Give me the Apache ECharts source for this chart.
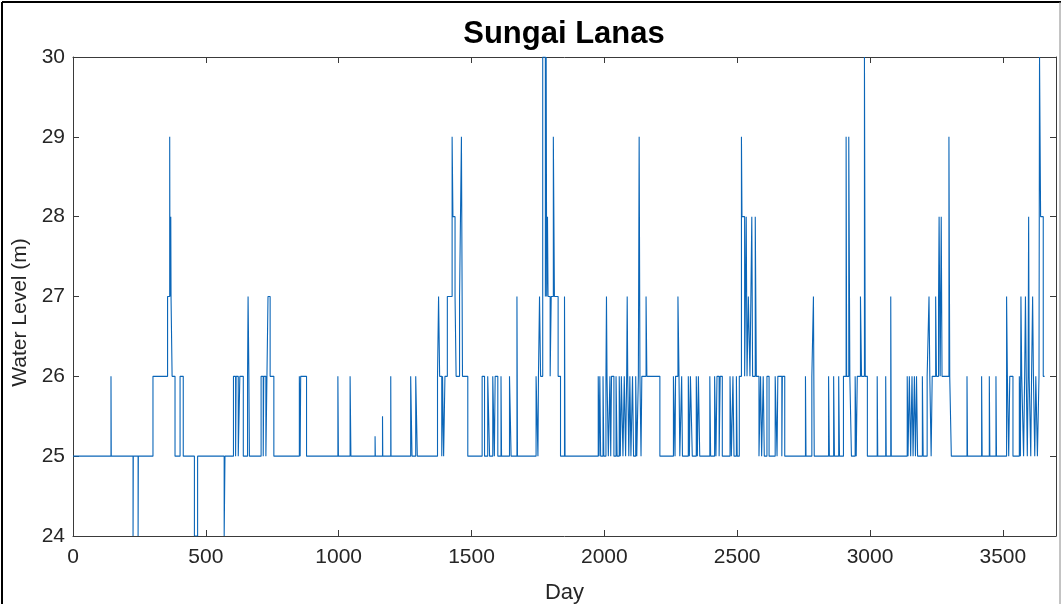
<!DOCTYPE html>
<html>
<head>
<meta charset="utf-8">
<script src="https://cdn.jsdelivr.net/npm/echarts@6/dist/echarts.min.js"></script>
<style>
html,body{margin:0;padding:0;background:#fff;}
#chart{width:1061px;height:604px;}
</style>
</head>
<body>
<div id="chart"></div>
<script>
// Day at which the water level changes, and the level held from that day on
const changeDays = [
  0, 143, 144, 226, 227, 245, 246, 301, 356, 364, 365, 368, 369, 373, 384, 403, 415,
  457, 469, 569, 572, 604, 612, 614, 622, 628, 641, 657, 659, 662, 664,
  708, 716, 718, 726, 730, 734, 742, 756, 852, 855, 857, 879, 997, 999, 1043, 1046,
  1137, 1138, 1165, 1166, 1196, 1197, 1271, 1276, 1290, 1296,
  1372, 1376, 1380, 1388, 1391, 1395, 1400, 1409, 1427, 1430, 1438, 1442, 1455, 1462, 1466, 1486,
  1540, 1549, 1561, 1568, 1580, 1586, 1589, 1599, 1611, 1613, 1643, 1649, 1671, 1673,
  1743, 1750, 1752, 1756, 1760, 1768, 1778, 1781, 1783, 1786, 1788, 1796, 1800, 1808, 1812, 1826, 1835, 1850, 1852,
  1977, 1980, 1983, 1986, 1995, 1998, 2006, 2008, 2010, 2015, 2021, 2024, 2027, 2036, 2044, 2048,
  2056, 2060, 2064, 2070, 2075, 2080, 2084, 2086, 2088, 2092, 2096, 2100, 2106, 2110, 2118, 2122,
  2128, 2131, 2134, 2138, 2141, 2157, 2160, 2209,
  2260, 2266, 2268, 2277, 2281, 2284, 2291, 2294, 2316, 2320, 2324, 2331, 2346, 2350, 2354, 2359,
  2397, 2400, 2415, 2420, 2424, 2432, 2436, 2444, 2473, 2478, 2484, 2488, 2497, 2500,
  2508, 2516, 2518, 2528, 2534, 2537, 2542, 2548, 2555, 2558, 2568, 2572, 2582,
  2588, 2592, 2598, 2602, 2612, 2620, 2643, 2650, 2653, 2668, 2670, 2679,
  2757, 2759, 2781, 2787, 2790, 2844, 2847, 2863, 2866, 2882, 2885,
  2900, 2910, 2912, 2920, 2924, 2930, 2944, 2948, 2952, 2964, 2968, 2979, 2982, 2990,
  3027, 3029, 3059, 3061, 3078, 3080,
  3140, 3143, 3148, 3153, 3158, 3162, 3167, 3171, 3175, 3179, 3197, 3200, 3215, 3222, 3225, 3230,
  3234, 3247, 3250, 3258, 3260, 3264, 3268, 3271, 3297, 3300, 3306,
  3365, 3367, 3420, 3422, 3449, 3451, 3474, 3476, 3514, 3517, 3522, 3526, 3538,
  3562, 3566, 3568, 3571, 3578, 3582, 3585, 3588, 3592, 3595, 3597, 3599, 3605, 3608, 3612, 3615,
  3620, 3624, 3630, 3636, 3638, 3640, 3642, 3652, 3657
];
const levels = [
  25, 26, 25, 24, 25, 24, 25, 26, 27, 29, 27, 28, 27, 26, 25, 26, 25,
  24, 25, 24, 25, 26, 25, 26, 25, 26, 25, 26, 27, 26, 25,
  26, 25, 26, 25, 26, 27, 26, 25, 26, 25, 26, 25, 26, 25, 26, 25,
  25.25, 25, 25.5, 25, 26, 25, 26, 25, 26, 25,
  26, 27, 26, 25, 26, 25, 26, 27, 29, 28, 27, 26, 27, 29, 26, 25,
  26, 25, 26, 25, 26, 25, 26, 25, 26, 25, 26, 25, 27, 25,
  26, 25, 26, 27, 26, 30, 27, 30, 27, 28, 27, 26, 27, 29, 27, 26, 25, 27, 25,
  26, 25, 26, 25, 26, 25, 26, 27, 26, 25, 26, 25, 26, 25, 26, 25,
  26, 25, 26, 25, 26, 25, 26, 27, 26, 25, 26, 25, 26, 25, 26, 25,
  26, 29, 26, 25, 26, 27, 26, 25,
  26, 25, 26, 27, 26, 25, 26, 25, 26, 25, 26, 25, 26, 25, 26, 25,
  26, 25, 26, 25, 26, 25, 26, 25, 26, 25, 26, 25, 26, 25,
  26, 29, 28, 26, 28, 26, 27, 26, 28, 26, 28, 26, 25,
  26, 25, 26, 25, 26, 25, 26, 25, 26, 25, 26, 25,
  26, 25, 26, 27, 25, 26, 25, 26, 25, 26, 25,
  26, 29, 26, 29, 26, 25, 26, 25, 26, 27, 26, 30, 26, 25,
  26, 25, 26, 25, 27, 25,
  26, 25, 26, 25, 26, 25, 26, 25, 26, 25, 26, 25, 26, 27, 26, 25,
  26, 27, 26, 27, 28, 26, 28, 26, 29, 26, 25,
  26, 25, 26, 25, 26, 25, 26, 25, 27, 26, 25, 26, 25,
  26, 25, 27, 26, 25, 26, 27, 26, 25, 26, 28, 26, 25, 26, 27, 26,
  25, 26, 25, 26, 30, 29, 28, 26, 26
];
const xTicks = [0, 500, 1000, 1500, 2000, 2500, 3000, 3500];
const yTicks = [24, 25, 26, 27, 28, 29, 30];
const chartTitle = 'Sungai Lanas';
const xName = 'Day';
const yName = 'Water Level (m)';

const seriesData = changeDays.map((d, i) => [d, levels[i]]);

const axisColor = '#3a3a3a';
const FONT = 'Liberation Sans, Arial, sans-serif';
const labelFont = {fontFamily: FONT, fontSize: 21, color: '#262626'};

const chart = echarts.init(document.getElementById('chart'), null, {renderer: 'canvas'});
const xBase = {
  type: 'value', min: 0, max: 3700, interval: 500,
  axisLine: {show: true, onZero: false, lineStyle: {color: axisColor, width: 1}},
  axisTick: {show: true, inside: true, length: 6, lineStyle: {color: axisColor}},
  splitLine: {show: false}
};
const yBase = {
  type: 'value', min: 24, max: 30, interval: 1,
  axisLine: {show: true, onZero: false, lineStyle: {color: axisColor, width: 1}},
  axisTick: {show: true, inside: true, length: 6, lineStyle: {color: axisColor}},
  splitLine: {show: false}
};
chart.setOption({
  backgroundColor: '#fff',
  animation: false,
  title: {
    text: chartTitle, left: 559, top: 14, textAlign: 'center',
    textStyle: {fontFamily: FONT, fontSize: 31, fontWeight: 'bold', color: '#000'}
  },
  grid: {left: 73, right: 5, top: 57, bottom: 68, containLabel: false, outerBoundsMode: 'none'},
  xAxis: [
    Object.assign({}, xBase, {
      position: 'bottom',
      name: xName, nameLocation: 'middle', nameGap: 46,
      nameTextStyle: {fontFamily: FONT, fontSize: 22, color: '#262626'},
      axisLabel: Object.assign({}, labelFont, {margin: 11,
        formatter: v => xTicks.indexOf(v) >= 0 ? String(v) : ''})
    }),
    Object.assign({}, xBase, {position: 'top', axisLabel: {show: false}})
  ],
  yAxis: [
    Object.assign({}, yBase, {
      position: 'left',
      name: yName, nameLocation: 'middle', nameGap: 34, nameRotate: 90,
      nameTextStyle: {fontFamily: FONT, fontSize: 21, color: '#262626', padding: [0, 32, 0, 0]},
      axisLabel: Object.assign({}, labelFont, {margin: 8,
        formatter: v => yTicks.indexOf(v) >= 0 ? String(v) : ''})
    }),
    Object.assign({}, yBase, {position: 'right', axisLabel: {show: false}})
  ],
  series: [{
    type: 'line',
    step: 'end',
    data: seriesData,
    showSymbol: false,
    clip: true,
    lineStyle: {color: '#0b66b8', width: 1.1},
    itemStyle: {color: '#0b66b8'}
  }],
  graphic: [
    {type: 'line', shape: {x1: 2, y1: 2, x2: 1061, y2: 2}, style: {stroke: '#000', lineWidth: 2}},
    {type: 'line', shape: {x1: 2, y1: 2, x2: 2, y2: 604}, style: {stroke: '#000', lineWidth: 2}},
    {type: 'line', shape: {x1: 1060, y1: 2, x2: 1060, y2: 604}, style: {stroke: '#888', lineWidth: 1}}
  ]
});

// Keep every short horizontal step of the line (the renderer skips sub-2px segments by default)
(function keepShortSegments() {
  const zr = chart.getZr();
  zr.storage.getDisplayList(true).forEach(el => {
    if (el.shape && el.shape.points && el.segmentIgnoreThreshold) {
      el.segmentIgnoreThreshold = 0;
      el.dirtyShape();
    }
  });
  zr.refreshImmediately();
})();
</script>
</body>
</html>
